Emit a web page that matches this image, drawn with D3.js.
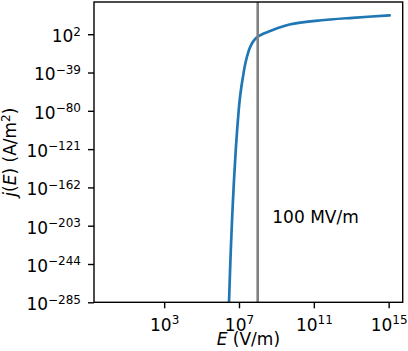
<!DOCTYPE html>
<meta charset="utf-8">
<title>j(E)</title>
<script src="https://d3js.org/d3.v7.min.js"></script>
<style>
  body { margin: 0; background: #fff; }
  text { font-family: "DejaVu Sans", sans-serif; fill: #000; }
  .tick-label { font-size: 17px; }
  .axis-label { font-size: 17px; }
</style>
<div id="chart"></div>
<script>
// log10 of field E (V/m) and current density j (A/m^2)
var logE = [6.466, 6.562, 6.679, 6.826, 6.986, 7.037, 7.127, 7.213, 7.303, 7.426, 7.57, 7.746, 7.959, 8.194, 8.546, 9.08, 9.70, 11.30, 13.08, 15.04];
var logJ = [-285, -229, -175.5, -122, -79.1, -68.4, -54.2, -43.5, -32.8, -22.1, -13.1, -6.0, -1.3, 1.5, 4.4, 8.6, 12.4, 16.7, 19.6, 22.2];

var xTickExp = [3, 7, 11, 15];
var yTickExp = [2, -39, -80, -121, -162, -203, -244, -285];
var markerE = 1e8;
var markerLabel = "100 MV/m";

var W = 408, H = 351;
var margin = {top: 2, right: 5.3, bottom: 48.7, left: 94};
var width = W - margin.left - margin.right,
    height = H - margin.top - margin.bottom;

var svg = d3.select("#chart").append("svg")
    .attr("width", W)
    .attr("height", H);

var g = svg.append("g")
    .attr("transform", "translate(" + margin.left + "," + margin.top + ")");

var x = d3.scaleLog()
    .domain([Math.pow(10, -0.75), Math.pow(10, 15.75)])
    .range([0, width]);

var y = d3.scaleLog()
    .domain([1e-285, Math.pow(10, 36.5)])
    .range([height, 0]);

g.append("clipPath").attr("id", "clip")
  .append("rect").attr("width", width).attr("height", height);

// curve
var pts = logE.map(function(e, i) { return [Math.pow(10, e), Math.pow(10, logJ[i])]; });
var line = d3.line()
    .x(function(d) { return x(d[0]); })
    .y(function(d) { return y(d[1]); })
    .curve(d3.curveCatmullRom.alpha(0.5));

g.append("path")
    .datum(pts)
    .attr("clip-path", "url(#clip)")
    .attr("d", line)
    .attr("fill", "none")
    .attr("stroke", "#1f77b4")
    .attr("stroke-width", 2.7)
    .attr("stroke-linecap", "square");

// 100 MV/m marker
g.append("line")
    .attr("x1", x(markerE)).attr("x2", x(markerE))
    .attr("y1", 0).attr("y2", height)
    .attr("stroke", "#808080")
    .attr("stroke-width", 2.6);

g.append("text")
    .attr("class", "axis-label")
    .attr("x", 178.3)
    .attr("y", 220.7)
    .text(markerLabel);

// axes
function supLabel(sel, exp) {
  sel.text(null);
  sel.append("tspan").text("10");
  sel.append("tspan")
    .attr("font-size", "12px")
    .attr("dy", -6.5)
    .text(String(exp).replace("-", "\u2212"));
}

var xAxis = g.append("g")
    .attr("transform", "translate(0," + height + ")")
    .call(d3.axisBottom(x)
      .tickValues(xTickExp.map(function(e) { return Math.pow(10, e); }))
      .tickSize(6).tickPadding(0));

xAxis.selectAll(".tick text")
    .attr("class", "tick-label")
    .attr("dy", null)
    .attr("y", 28.7)
    .each(function(d, i) { supLabel(d3.select(this), xTickExp[i]); });

var yAxis = g.append("g")
    .call(d3.axisLeft(y)
      .tickValues(yTickExp.map(function(e) { return Math.pow(10, e); }))
      .tickSize(6).tickPadding(7));

yAxis.selectAll(".tick text")
    .attr("class", "tick-label")
    .attr("dy", null)
    .attr("y", 7.3)
    .each(function(d, i) { supLabel(d3.select(this), yTickExp[i]); });

g.selectAll(".domain").remove();
g.selectAll(".tick line").attr("stroke", "#000").attr("stroke-width", 1.4);
g.selectAll(".tick text").attr("font-family", null).attr("font-size", null);

g.append("rect")
    .attr("width", width)
    .attr("height", height)
    .attr("fill", "none")
    .attr("stroke", "#000")
    .attr("stroke-width", 1.4);

// axis titles
var xt = svg.append("text")
    .attr("class", "axis-label")
    .attr("text-anchor", "middle")
    .attr("x", margin.left + width / 2)
    .attr("y", 345);
xt.append("tspan").attr("font-style", "italic").text("E");
xt.append("tspan").text(" (V/m)");

var yt = svg.append("text")
    .attr("class", "axis-label")
    .attr("text-anchor", "middle")
    .attr("transform", "translate(16," + (margin.top + height / 2) + ") rotate(-90)");
yt.append("tspan").attr("font-style", "italic").text("j");
yt.append("tspan").text("(");
yt.append("tspan").attr("font-style", "italic").text("E");
yt.append("tspan").text(") (A/m");
yt.append("tspan").attr("font-size", "12px").attr("dy", -6.5).text("2");
yt.append("tspan").attr("dy", 6.5).text(")");
</script>
